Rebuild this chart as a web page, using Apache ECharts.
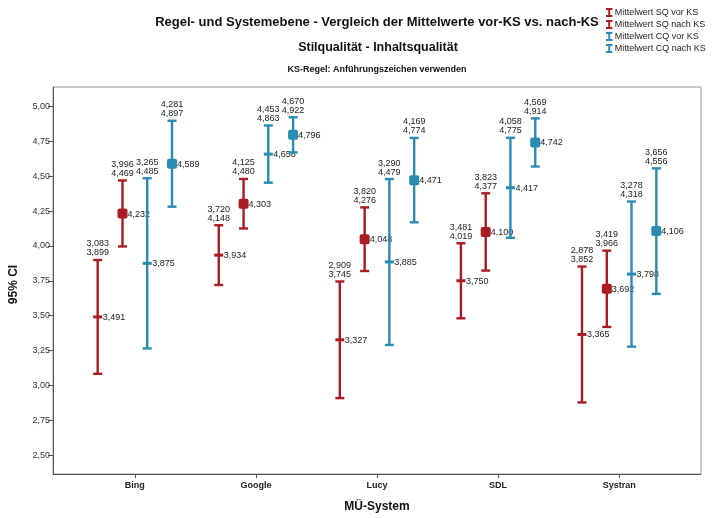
<!DOCTYPE html>
<html><head><meta charset="utf-8">
<script src="https://cdn.jsdelivr.net/npm/echarts@6/dist/echarts.min.js"></script>
<style>html,body{margin:0;padding:0;background:#fff}#c{width:712px;height:518px}</style>
</head><body><div id="c"></div>
<script>
const categories = ['Bing', 'Google', 'Lucy', 'SDL', 'Systran'];
const seriesNames = ['Mittelwert SQ vor KS', 'Mittelwert SQ nach KS', 'Mittelwert CQ vor KS', 'Mittelwert CQ nach KS'];

const sqVorLow   = [3.083, 3.720, 2.909, 3.481, 2.878];
const sqVorHigh  = [3.899, 4.148, 3.745, 4.019, 3.852];
const sqVorMean  = [3.491, 3.934, 3.327, 3.750, 3.365];

const sqNachLow  = [3.996, 4.125, 3.820, 3.823, 3.419];
const sqNachHigh = [4.469, 4.480, 4.276, 4.377, 3.966];
const sqNachMean = [4.232, 4.303, 4.048, 4.100, 3.692];

const cqVorLow   = [3.265, 4.453, 3.290, 4.058, 3.278];
const cqVorHigh  = [4.485, 4.863, 4.479, 4.775, 4.318];
const cqVorMean  = [3.875, 4.658, 3.885, 4.417, 3.798];

const cqNachLow  = [4.281, 4.670, 4.169, 4.569, 3.656];
const cqNachHigh = [4.897, 4.922, 4.774, 4.914, 4.556];
const cqNachMean = [4.589, 4.796, 4.471, 4.742, 4.106];

const yTicks = [2.5, 2.75, 3.0, 3.25, 3.5, 3.75, 4.0, 4.25, 4.5, 4.75, 5.0];
const xTicks = [0, 1, 2, 3, 4];

const RED = '#a81c22';
const BLUE = '#2a8bb3';
const FONT = '"Liberation Sans", Arial, sans-serif';

function fmt(v) { return v.toFixed(3).replace('.', ','); }

function rows(lo, hi, m) {
  return categories.map((c, i) => [i, lo[i], hi[i], m[i]]);
}

function makeRender(offset, color, big) {
  return function (params, api) {
    const i = api.value(0), lo = api.value(1), hi = api.value(2), m = api.value(3);
    const pLo = api.coord([i + offset, lo]);
    const pHi = api.coord([i + offset, hi]);
    const pM = api.coord([i + offset, m]);
    const x = pLo[0];
    const cw = 4.5;
    const lw = 2.4;
    const children = [
      { type: 'line', shape: { x1: x, y1: pHi[1], x2: x, y2: pLo[1] }, style: { stroke: color, lineWidth: lw } },
      { type: 'line', shape: { x1: x - cw, y1: pHi[1], x2: x + cw, y2: pHi[1] }, style: { stroke: color, lineWidth: lw } },
      { type: 'line', shape: { x1: x - cw, y1: pLo[1], x2: x + cw, y2: pLo[1] }, style: { stroke: color, lineWidth: lw } },
      big
        ? { type: 'rect', shape: { x: x - 5, y: pM[1] - 5, width: 10, height: 10, r: 2 }, style: { fill: color } }
        : { type: 'rect', shape: { x: x - 4.5, y: pM[1] - 1.5, width: 9, height: 3 }, style: { fill: color } },
      { type: 'text', style: { text: fmt(m), x: x + 5, y: pM[1] + 0.5, align: 'left', verticalAlign: 'middle',
          font: '9px ' + FONT, fill: '#222' } },
      { type: 'text', style: { text: fmt(lo) + '\n' + fmt(hi), x: x, y: pHi[1] - 2.5, align: 'center', verticalAlign: 'bottom',
          font: '9px ' + FONT, lineHeight: 9, fill: '#222' } }
    ];
    return { type: 'group', children };
  };
}

const iBeam = 'path://M0,0L10,0L10,3L6.5,3L6.5,11L10,11L10,14L0,14L0,11L3.5,11L3.5,3L0,3Z';

const seriesDefs = [
  { name: seriesNames[0], off: -0.307, color: RED, big: false, data: rows(sqVorLow, sqVorHigh, sqVorMean) },
  { name: seriesNames[1], off: -0.102, color: RED, big: true, data: rows(sqNachLow, sqNachHigh, sqNachMean) },
  { name: seriesNames[2], off: 0.102, color: BLUE, big: false, data: rows(cqVorLow, cqVorHigh, cqVorMean) },
  { name: seriesNames[3], off: 0.307, color: BLUE, big: true, data: rows(cqNachLow, cqNachHigh, cqNachMean) }
];

const chart = echarts.init(document.getElementById('c'), null, { renderer: 'canvas' });
chart.setOption({
  animation: false,
  backgroundColor: '#fff',
  title: [
    { text: 'Regel- und Systemebene - Vergleich der Mittelwerte vor-KS vs. nach-KS', left: 372, top: 11, textAlign: 'center',
      textStyle: { fontFamily: FONT, fontWeight: 'bold', fontSize: 13, color: '#111' } },
    { text: 'Stilqualität - Inhaltsqualität', left: 373, top: 36, textAlign: 'center',
      textStyle: { fontFamily: FONT, fontWeight: 'bold', fontSize: 12.5, color: '#111' } },
    { text: 'KS-Regel: Anführungszeichen verwenden', left: 372, top: 60, textAlign: 'center',
      textStyle: { fontFamily: FONT, fontWeight: 'bold', fontSize: 9, color: '#111' } }
  ],
  legend: {
    orient: 'vertical', left: 606, top: 8, padding: 0, itemGap: 3,
    itemWidth: 7, itemHeight: 9, icon: iBeam,
    textStyle: { fontFamily: FONT, fontSize: 9, color: '#222', padding: [0, 0, 0, -3] },
    data: seriesNames
  },
  grid: { left: 51, right: 11, top: 87, bottom: 38, show: true, borderColor: '#999', borderWidth: 1, containLabel: false },
  xAxis: {
    type: 'value', min: -0.676, max: 4.676,
    name: 'MÜ-System', nameLocation: 'middle', nameGap: 27,
    nameTextStyle: { fontFamily: FONT, fontWeight: 'bold', fontSize: 12, color: '#111' },
    axisLine: { show: true, onZero: false, lineStyle: { color: '#555', width: 1 } },
    axisTick: { show: true, customValues: xTicks, length: 4, lineStyle: { color: '#555' } },
    axisLabel: { customValues: xTicks, formatter: v => categories[Math.round(v)], fontFamily: FONT, fontWeight: 'bold', fontSize: 9, color: '#222', margin: 7 },
    splitLine: { show: false }
  },
  yAxis: {
    type: 'value', min: 2.365, max: 5.139,
    name: '95% CI', nameLocation: 'middle', nameGap: 33, nameRotate: 90,
    nameTextStyle: { fontFamily: FONT, fontWeight: 'bold', fontSize: 12, color: '#111', padding: [0, 8, 0, 0] },
    axisLine: { show: true, onZero: false, lineStyle: { color: '#555', width: 1 } },
    axisTick: { show: true, customValues: yTicks, length: 5, lineStyle: { color: '#555' } },
    axisLabel: { customValues: yTicks, formatter: v => v.toFixed(2).replace('.', ','), fontFamily: FONT, fontSize: 9, color: '#333', margin: 3 },
    splitLine: { show: false }
  },
  series: seriesDefs.map(s => ({
    type: 'custom', name: s.name, data: s.data,
    itemStyle: { color: s.color },
    encode: { x: 0, y: [1, 2, 3] },
    renderItem: makeRender(s.off, s.color, s.big)
  }))
});
</script>
</body></html>
